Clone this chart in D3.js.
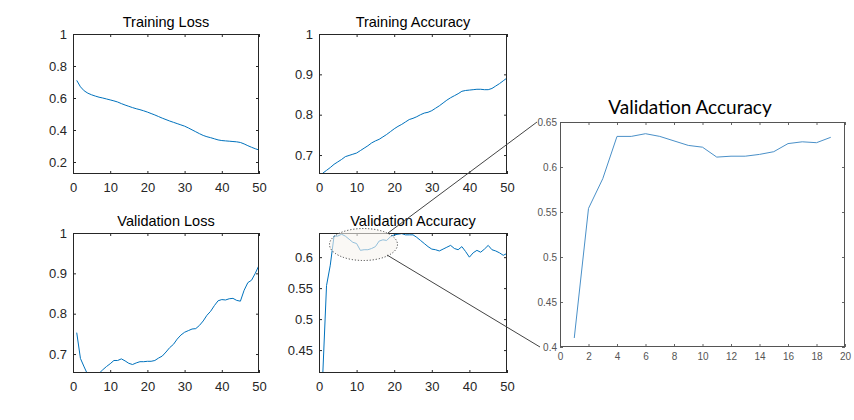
<!DOCTYPE html>
<html>
<head>
<meta charset="utf-8">
<script src="https://cdn.jsdelivr.net/npm/d3@7"></script>
<style>
  html, body { margin: 0; padding: 0; background: #fff; }
  svg { display: block; }
</style>
</head>
<body>
<svg id="chart" width="854" height="420"></svg>
<script>
// ---- Data (epochs 1..50) ----
const epochs = d3.range(1, 51);
const trainLoss = [0.71,0.67,0.645,0.63,0.62,0.612,0.605,0.60,0.594,0.588,
  0.582,0.575,0.565,0.556,0.548,0.54,0.533,0.527,0.52,0.512,
  0.503,0.494,0.484,0.474,0.465,0.456,0.448,0.44,0.432,0.424,
  0.413,0.401,0.389,0.377,0.366,0.358,0.352,0.345,0.338,0.334,
  0.332,0.33,0.328,0.326,0.322,0.313,0.302,0.292,0.283,0.275];
const trainAcc = [0.655,0.662,0.669,0.677,0.683,0.689,0.696,0.699,0.702,0.705,
  0.711,0.717,0.723,0.73,0.735,0.739,0.745,0.751,0.758,0.765,
  0.771,0.776,0.782,0.788,0.791,0.795,0.8,0.804,0.806,0.81,
  0.816,0.822,0.829,0.836,0.842,0.847,0.852,0.858,0.86,0.861,
  0.862,0.863,0.863,0.862,0.862,0.865,0.871,0.877,0.884,0.891];
const valLoss = [0.753,0.689,0.668,0.648,0.645,0.648,0.652,0.661,0.669,0.676,
  0.684,0.684,0.688,0.683,0.677,0.674,0.678,0.681,0.681,0.682,
  0.682,0.684,0.69,0.695,0.705,0.716,0.724,0.737,0.747,0.754,
  0.758,0.762,0.763,0.771,0.782,0.796,0.806,0.82,0.832,0.835,
  0.834,0.837,0.838,0.833,0.831,0.858,0.877,0.883,0.9,0.92];
const valAcc = [0.41,0.554,0.587,0.634,0.634,0.637,0.634,0.629,0.624,0.622,
  0.611,0.612,0.612,0.614,0.617,0.626,0.628,0.627,0.633,0.636,
  0.637,0.638,0.636,0.636,0.636,0.632,0.627,0.622,0.617,0.613,
  0.612,0.61,0.613,0.616,0.619,0.614,0.612,0.617,0.609,0.6,
  0.607,0.611,0.608,0.613,0.619,0.612,0.61,0.607,0.603,0.606];
const zoomCount = 19;

const titles = ["Training Loss", "Training Accuracy", "Validation Loss", "Validation Accuracy"];
const xTicksSmall = [0, 10, 20, 30, 40, 50];
const yTicksTL = [0.2, 0.4, 0.6, 0.8, 1];
const yTicksTR = [0.7, 0.8, 0.9, 1];
const yTicksBL = [0.7, 0.8, 0.9, 1];
const yTicksBR = [0.45, 0.5, 0.55, 0.6];
const xTicksZoom = [0, 2, 4, 6, 8, 10, 12, 14, 16, 18, 20];
const yTicksZoom = [0.4, 0.45, 0.5, 0.55, 0.6, 0.65];

const svg = d3.select("#chart");
const fmt = d => String(+(+d).toFixed(2));
const lineBlue = "#0072BD";

function smallPlot(id, box, yDomain, yTicks, series, title) {
  const x = d3.scaleLinear().domain([0, 50]).range([box.l, box.r]);
  const y = d3.scaleLinear().domain(yDomain).range([box.b, box.t]);
  const g = svg.append("g");
  g.append("clipPath").attr("id", id).append("rect")
    .attr("x", box.l).attr("y", box.t).attr("width", box.r - box.l).attr("height", box.b - box.t);

  const styleAxis = sel => {
    sel.select(".domain").remove();
    sel.selectAll("line").attr("stroke", "#262626");
    sel.selectAll("text").attr("fill", "#262626")
      .style("font-family", "'Liberation Sans', Arial, sans-serif").style("font-size", "13px");
  };
  g.append("g").attr("transform", `translate(0,${box.b})`)
    .call(d3.axisBottom(x).tickValues(xTicksSmall).tickFormat(fmt).tickSize(-3).tickPadding(9)).call(styleAxis);
  g.append("g").attr("transform", `translate(${box.l},0)`)
    .call(d3.axisLeft(y).tickValues(yTicks).tickFormat(fmt).tickSize(-3).tickPadding(6)).call(styleAxis);
  g.append("g").attr("transform", `translate(0,${box.t})`)
    .call(d3.axisTop(x).tickValues(xTicksSmall).tickFormat("").tickSize(-3)).call(styleAxis);
  g.append("g").attr("transform", `translate(${box.r},0)`)
    .call(d3.axisRight(y).tickValues(yTicks).tickFormat("").tickSize(-3)).call(styleAxis);

  const line = d3.line().x((d, i) => x(epochs[i])).y(d => y(d));
  g.append("path").datum(series).attr("d", line)
    .attr("fill", "none").attr("stroke", lineBlue).attr("stroke-width", 1)
    .attr("clip-path", `url(#${id})`);

  g.append("rect").attr("x", box.l + 0.5).attr("y", box.t + 0.5)
    .attr("width", box.r - box.l - 1).attr("height", box.b - box.t - 1)
    .attr("fill", "none").attr("stroke", "#262626").attr("stroke-width", 1);

  g.append("text").attr("x", (box.l + box.r) / 2).attr("y", box.t - 7)
    .attr("text-anchor", "middle").attr("fill", "#000")
    .style("font-family", "'Liberation Sans', Arial, sans-serif").style("font-size", "14.5px")
    .text(title);
  return { x, y, g };
}

smallPlot("c1", { l: 73, r: 259, t: 34, b: 174 }, [0.125, 1], yTicksTL, trainLoss, titles[0]);
smallPlot("c2", { l: 319, r: 507, t: 34, b: 174 }, [0.653, 1], yTicksTR, trainAcc, titles[1]);
smallPlot("c3", { l: 73, r: 259, t: 233, b: 373 }, [0.653, 1], yTicksBL, valLoss, titles[2]);
smallPlot("c4", { l: 319, r: 507, t: 233, b: 373 }, [0.413, 0.639], yTicksBR, valAcc, titles[3]);

// Highlight ellipse over zoomed region
svg.append("ellipse").attr("cx", 363.5).attr("cy", 244.5).attr("rx", 34).attr("ry", 16)
  .attr("fill", "rgba(246,243,238,0.6)").attr("stroke", "#444").attr("stroke-width", 1)
  .attr("stroke-dasharray", "1.2,1.8");

// Connector lines
const conn = svg.append("g").attr("stroke", "#444").attr("stroke-width", 1);
conn.append("line").attr("x1", 388).attr("y1", 233).attr("x2", 537).attr("y2", 122);
conn.append("line").attr("x1", 387).attr("y1", 255).attr("x2", 540).attr("y2", 347);

// Zoomed plot
const zb = { l: 560, r: 845, t: 122, b: 347 };
const zx = d3.scaleLinear().domain([0, 20]).range([zb.l, zb.r]);
const zy = d3.scaleLinear().domain([0.4, 0.65]).range([zb.b, zb.t]);
const zg = svg.append("g");
const styleZ = sel => {
  sel.select(".domain").remove();
  sel.selectAll("line").attr("stroke", "#666");
  sel.selectAll("text").attr("fill", "#555")
    .style("font-family", "'Liberation Sans', Arial, sans-serif").style("font-size", "10px");
};
zg.append("g").attr("transform", `translate(0,${zb.b})`)
  .call(d3.axisBottom(zx).tickValues(xTicksZoom).tickFormat(fmt).tickSize(-3).tickPadding(6)).call(styleZ);
zg.append("g").attr("transform", `translate(${zb.l},0)`)
  .call(d3.axisLeft(zy).tickValues(yTicksZoom).tickFormat(fmt).tickSize(-3).tickPadding(3)).call(styleZ);
zg.append("g").attr("transform", `translate(0,${zb.t})`)
  .call(d3.axisTop(zx).tickValues(xTicksZoom).tickFormat("").tickSize(-3)).call(styleZ);
zg.append("g").attr("transform", `translate(${zb.r},0)`)
  .call(d3.axisRight(zy).tickValues(yTicksZoom).tickFormat("").tickSize(-3)).call(styleZ);
zg.append("path").datum(valAcc.slice(0, zoomCount))
  .attr("d", d3.line().x((d, i) => zx(epochs[i])).y(d => zy(d)))
  .attr("fill", "none").attr("stroke", "#4a90c8").attr("stroke-width", 1);
zg.append("rect").attr("x", zb.l + 0.5).attr("y", zb.t + 0.5)
  .attr("width", zb.r - zb.l - 1).attr("height", zb.b - zb.t - 1)
  .attr("fill", "none").attr("stroke", "#555").attr("stroke-width", 1);
zg.append("text").attr("x", 690).attr("y", 114).attr("text-anchor", "middle")
  .attr("fill", "#000").style("font-family", "Lato, 'Open Sans', sans-serif").style("font-size", "19px")
  .text("Validation Accuracy");
</script>
</body>
</html>
